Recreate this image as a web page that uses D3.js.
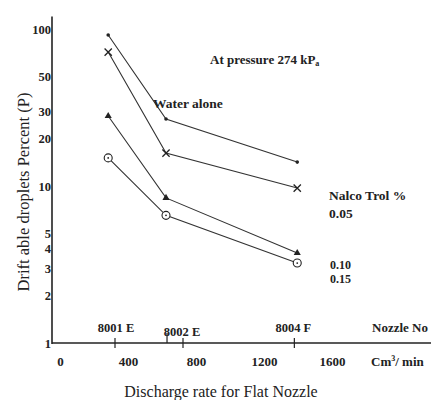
<!DOCTYPE html>
<html>
<head>
<meta charset="utf-8">
<script src="https://cdn.jsdelivr.net/npm/d3@7/dist/d3.min.js"></script>
<style>
  html, body { margin: 0; padding: 0; background: #ffffff; }
  svg { display: block; }
  text { font-family: "Liberation Serif", "DejaVu Serif", serif; fill: #222; }
</style>
</head>
<body>
<svg id="chart" width="433" height="400"></svg>
<script>
// ---- data ----
const dischargeRates = [360, 700, 1472];            // cm3/min at each nozzle
const waterAlone   = [91.6, 26.7, 14.2];
const nalco005     = [71.3, 16.2, 9.7];
const nalco010     = [27.9, 8.4, 3.74];
const nalco015     = [15.1, 6.5, 3.23];
const seriesNames  = ["Water alone", "0.05", "0.10", "0.15"];
const nozzleNames  = ["8001 E", "8002 E", "8004 F"];
const nozzleRates  = [400, 706, 1455];
const xTickValues  = [0, 400, 800, 1200, 1600];
const yTickValues  = [1, 2, 3, 4, 5, 10, 20, 30, 50, 100];

const svg = d3.select("#chart");
const ink = "#222";

const x = d3.scaleLinear().domain([0, 1600]).range([47, 319]);
const y = d3.scaleLog().domain([1, 100]).range([343, 29]);

const xLeft = 52, xRight = 431;

// axes lines
svg.append("line")
  .attr("x1", xLeft).attr("x2", xLeft)
  .attr("y1", y(1) + 1).attr("y2", y(120))
  .attr("stroke", ink).attr("stroke-width", 1.6);
svg.append("line")
  .attr("x1", xLeft).attr("x2", xRight)
  .attr("y1", y(1)).attr("y2", y(1))
  .attr("stroke", ink).attr("stroke-width", 1.6);

// y tick labels
const yAxis = d3.axisLeft(y).tickValues(yTickValues).tickFormat(d3.format("d")).tickSize(0);
const gy = svg.append("g").attr("transform", `translate(${xLeft + 1},0)`).call(yAxis);
gy.select(".domain").remove();
gy.selectAll("text")
  .attr("x", -2)
  .style("font-size", "12.5px").style("font-weight", "bold")
  .style("font-family", "Liberation Serif, serif").attr("fill", ink);

// x tick labels (printed slightly right of the tick marks)
const xAxis = d3.axisBottom(x).tickValues(xTickValues).tickFormat(d3.format("d")).tickSize(0);
const gx = svg.append("g").attr("transform", `translate(0,${y(1)})`).call(xAxis);
gx.select(".domain").remove();
gx.selectAll("text")
  .attr("dx", 13).attr("y", 14)
  .style("font-size", "13px").style("font-weight", "bold")
  .style("font-family", "Liberation Serif, serif").attr("fill", ink);

// tick marks on x axis (400, 800 and nozzles)
const markVals = [400, 800, nozzleRates[1], nozzleRates[2]];
svg.selectAll(".xmark").data(markVals).enter().append("line")
  .attr("x1", d => x(d)).attr("x2", d => x(d))
  .attr("y1", (d, i) => y(1) - (i === 2 ? 10 : 5))
  .attr("y2", (d, i) => y(1) + (i === 2 ? 0 : 5))
  .attr("stroke", ink).attr("stroke-width", 1.2);

// nozzle labels
const nozzleLabelDy = [-11, -7, -11];
svg.selectAll(".noz").data(nozzleNames).enter().append("text")
  .attr("x", (d, i) => x(nozzleRates[i]) + (i === 0 ? 1 : (i === 1 ? 15 : -1)))
  .attr("y", (d, i) => y(1) + nozzleLabelDy[i])
  .attr("text-anchor", "middle")
  .style("font-size", "12.5px").style("font-weight", "bold")
  .text(d => d);

// series
const series = [waterAlone, nalco005, nalco010, nalco015];
const line = d3.line().x((d, i) => x(dischargeRates[i])).y(d => y(d));
series.forEach(s => {
  svg.append("path").datum(s)
    .attr("d", line)
    .attr("fill", "none")
    .attr("stroke", "#333")
    .attr("stroke-width", 1.1);
});

// markers
// water alone: small dot
svg.selectAll(".m0").data(waterAlone).enter().append("circle")
  .attr("cx", (d, i) => x(dischargeRates[i])).attr("cy", d => y(d))
  .attr("r", 1.8).attr("fill", ink);
// 0.05: x cross
svg.selectAll(".m1").data(nalco005).enter().append("path")
  .attr("transform", (d, i) => `translate(${x(dischargeRates[i])},${y(d)})`)
  .attr("d", d3.symbol().type(d3.symbolTimes).size(36))
  .attr("fill", "none").attr("stroke", ink).attr("stroke-width", 1.3);
// 0.10: filled blob
svg.selectAll(".m2").data(nalco010).enter().append("path")
  .attr("transform", (d, i) => `translate(${x(dischargeRates[i])},${y(d)})`)
  .attr("d", d3.symbol().type(d3.symbolTriangle).size(22))
  .attr("fill", ink);
// 0.15: open circle with dot
svg.selectAll(".m3").data(nalco015).enter().append("circle")
  .attr("cx", (d, i) => x(dischargeRates[i])).attr("cy", d => y(d))
  .attr("r", 4).attr("fill", "#fff").attr("stroke", ink).attr("stroke-width", 1.1);
svg.selectAll(".m3d").data(nalco015).enter().append("circle")
  .attr("cx", (d, i) => x(dischargeRates[i])).attr("cy", d => y(d))
  .attr("r", 0.9).attr("fill", ink);

// annotations
const ann = svg.append("g").style("font-weight", "bold").style("font-size", "13px");
const t1 = ann.append("text").attr("x", 210).attr("y", 64);
t1.append("tspan").text("At pressure 274 kP");
t1.append("tspan").attr("dy", 2).style("font-size", "8px").text("a");
ann.append("text").attr("x", 153).attr("y", 108).style("font-size", "13.5px").text(seriesNames[0]);
ann.append("text").attr("x", 329).attr("y", 200).style("font-size", "13.5px").text("Nalco Trol %");
ann.append("text").attr("x", 329).attr("y", 218).style("font-size", "13.5px").text(seriesNames[1]);
ann.append("text").attr("x", 330).attr("y", 269).style("font-size", "12px").text(seriesNames[2]);
ann.append("text").attr("x", 330).attr("y", 283).style("font-size", "12px").text(seriesNames[3]);
ann.append("text").attr("x", 372).attr("y", 332).text("Nozzle No");
const cm = ann.append("text").attr("x", 371).attr("y", 366);
cm.append("tspan").text("Cm");
cm.append("tspan").attr("dy", -5).style("font-size", "8px").text("3");
cm.append("tspan").attr("dy", 5).text("/ min");

// axis titles
svg.append("text")
  .attr("transform", "translate(29,192) rotate(-90)")
  .attr("text-anchor", "middle")
  .style("font-size", "16.5px")
  .text("Drift able droplets Percent (P)");
svg.append("text")
  .attr("x", 221).attr("y", 397)
  .attr("text-anchor", "middle")
  .style("font-size", "16px")
  .text("Discharge rate for Flat Nozzle");
</script>
</body>
</html>
